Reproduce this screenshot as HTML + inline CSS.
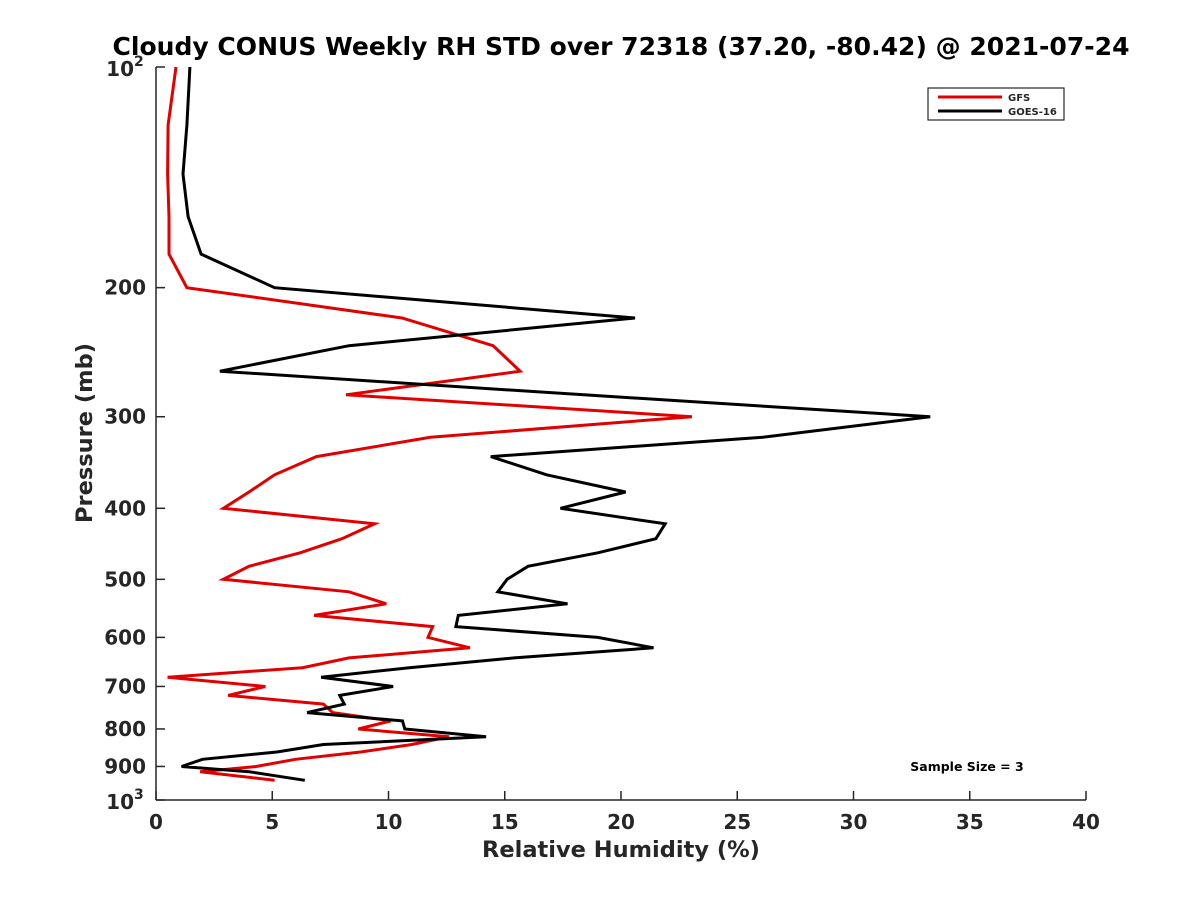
<!DOCTYPE html>
<html><head><meta charset="utf-8"><style>
body{margin:0;background:#fff;}
svg text{font-family:"DejaVu Sans","Liberation Sans",sans-serif;font-weight:bold;fill:#262626;}
</style></head><body>
<svg id="chart" width="1200" height="900" viewBox="0 0 1200 900" xmlns="http://www.w3.org/2000/svg">
<rect width="1200" height="900" fill="#fff"/>
<text x="621" y="55" text-anchor="middle" font-size="25" textLength="1017" lengthAdjust="spacingAndGlyphs" style="fill:#000">Cloudy CONUS Weekly RH STD over 72318 (37.20, -80.42) @ 2021-07-24</text>
<g id="axes"></g>
<g id="series"></g>
<g>
<rect x="928" y="88" width="136" height="32" fill="#fff" stroke="#262626" stroke-width="1.2"/>
<line x1="938" y1="97" x2="1002" y2="97" stroke="#e00000" stroke-width="3"/>
<text x="1008" y="101" font-size="10">GFS</text>
<line x1="938" y1="111" x2="1002" y2="111" stroke="#000" stroke-width="3"/>
<text x="1008" y="115" font-size="10">GOES-16</text>
</g>
<text x="967" y="771" text-anchor="middle" font-size="12.5" style="fill:#000">Sample Size = 3</text>
<text x="621" y="857" text-anchor="middle" font-size="22.5">Relative Humidity (%)</text>
<text transform="translate(92,433) rotate(-90)" text-anchor="middle" font-size="22.5">Pressure (mb)</text>
</svg>
<script>
const pressures=[100,120,140,160,180,200,220,240,260,280,300,320,340,360,380,400,420,440,460,480,500,520,540,560,580,600,620,640,660,680,700,720,740,760,780,800,820,840,860,880,900,915,940];
const gfsRH=[0.86,0.52,0.5,0.56,0.56,1.33,10.58,14.5,15.66,8.17,23.05,11.8,6.9,5.1,4.0,2.9,9.4,8.0,6.2,4.0,2.9,8.3,9.9,6.8,11.9,11.7,13.5,8.3,6.3,0.5,4.7,3.1,7.2,7.6,10.1,8.7,12.6,11.0,8.8,6.0,4.3,1.9,5.1];
const goesRH=[1.46,1.33,1.16,1.38,1.94,5.1,20.6,8.3,2.75,18.4,33.3,26.1,14.4,16.8,20.2,17.4,21.9,21.5,19.0,16.0,15.1,14.7,17.7,13.0,12.9,19.0,21.4,15.4,10.9,7.1,10.2,7.9,8.1,6.5,10.6,10.7,14.2,7.2,5.2,2.0,1.1,4.0,6.4];
const xTicks=[0,5,10,15,20,25,30,35,40];
const yTicks=[200,300,400,500,600,700,800,900];
const L=156,R=1086,T=67,B=800;
const xs=v=>L+(v-0)/(40-0)*(R-L);
const ys=p=>T+(Math.log10(p)-2)*(B-T);
const NS="http://www.w3.org/2000/svg";
function mk(tag,attrs,parent){const e=document.createElementNS(NS,tag);for(const k in attrs)e.setAttribute(k,attrs[k]);parent.appendChild(e);return e;}
const ax=document.getElementById('axes');
let yl=mk('line',{x1:L,y1:T,x2:L,y2:B,stroke:'#262626','stroke-width':1.5},ax);


let xl=mk('line',{x1:L,y1:B,x2:R,y2:B,stroke:'#262626','stroke-width':1.5},ax);


xTicks.forEach(v=>{
  const x=xs(v);
  mk('line',{x1:x,y1:B,x2:x,y2:B-9,stroke:'#262626','stroke-width':1.5},ax);
  const t=mk('text',{x:x,y:B+29,'text-anchor':'middle','font-size':20},ax);
  t.textContent=v;
  
  
});
yTicks.forEach(p=>{
  const y=ys(p);
  mk('line',{x1:L,y1:y,x2:L+9,y2:y,stroke:'#262626','stroke-width':1.5},ax);
  const t=mk('text',{x:L-10,y:y+7,'text-anchor':'end','font-size':20},ax);
  t.textContent=p;
  
  
});
[[100,'2'],[1000,'3']].forEach(([p,e])=>{
  const y=ys(p);
  mk('line',{x1:L,y1:y,x2:L+9,y2:y,stroke:'#262626','stroke-width':1.5},ax);
  const t=mk('text',{x:L-22,y:y+9,'text-anchor':'end','font-size':20},ax);
  t.textContent='10';
  
  
  const s=mk('text',{x:L-22,y:y-1,'text-anchor':'start','font-size':14},ax);
  s.textContent=e;
  
  
});
const sg=document.getElementById('series');
function line(vals,color,name){
  const d=vals.map((v,i)=>(i?'L':'M')+xs(v).toFixed(1)+','+ys(pressures[i]).toFixed(1)).join(' ');
  const p=mk('path',{d:d,fill:'none',stroke:color,'stroke-width':3,'stroke-linejoin':'miter'},sg);
  
  
}
line(gfsRH,'#e00000','gfs-line');
line(goesRH,'#000000','goes16-line');
</script>
</body></html>
